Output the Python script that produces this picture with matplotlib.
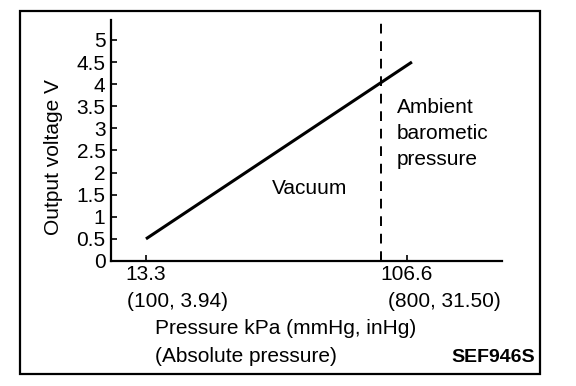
import numpy as np
import matplotlib
matplotlib.use("Agg")
import matplotlib.pyplot as plt
from matplotlib.patches import Rectangle
from matplotlib.transforms import blended_transform_factory, offset_copy

plt.rcParams['font.family'] = ['Liberation Sans', 'DejaVu Sans']

# Sensor characteristic (kPa absolute -> volts)
pressure_kpa = [13.3, 108.4]
output_v = [0.5, 4.5]
ambient_kpa = 97.3

xtick_vals = [13.3, ambient_kpa, 106.6]
xtick_main = ["13.3", "", "106.6"]
xtick_sub = ["(100, 3.94)", "", "(800, 31.50)"]
ytick_vals = np.arange(0, 5.01, 0.5)
ytick_labels = ["0", "0.5", "1", "1.5", "2", "2.5", "3", "3.5", "4", "4.5", "5"]

fs = 15
fig = plt.figure(figsize=(5.76, 3.86), dpi=100)
ax = fig.add_axes([111/576, 1 - 261/386, (502 - 111)/576, (261 - 20)/386])

ax.plot(pressure_kpa, output_v, color='black', lw=2.2, solid_capstyle='butt')
ax.axvline(ambient_kpa, color='black', lw=1.4, dashes=(5, 4))

ax.set_xlim(0.8, 140.6)
ax.set_ylim(0, 5.45)

for s in ['top', 'right']:
    ax.spines[s].set_visible(False)
for s in ['left', 'bottom']:
    ax.spines[s].set_linewidth(1.6)

ax.set_yticks(ytick_vals)
ax.set_yticklabels(ytick_labels, fontsize=fs)
ax.set_xticks(xtick_vals)
ax.set_xticklabels(xtick_main, fontsize=fs)
ax.tick_params(axis='both', direction='in', length=4, width=1.2, pad=3)
ax.tick_params(axis='y', pad=4)

trans = blended_transform_factory(ax.transData, ax.transAxes)
for xv, lab in zip(xtick_vals, xtick_sub):
    if lab:
        ax.text(xv, -0.17, lab, transform=offset_copy(trans, fig=fig, x=-19, y=0, units='dots'),
                ha='left', va='center', fontsize=fs)

ax.set_ylabel("Output voltage V", fontsize=fs, va='center')
ax.yaxis.set_label_coords(-0.146, 0.43)

ax.text(58.3, 1.65, "Vacuum", fontsize=fs, ha='left', va='center')
ax.text(103.0, 3.68, "Ambient\nbarometic\npressure", fontsize=fs, ha='left', va='top',
        linespacing=1.45)

fig.text(155/576, 1 - 328/386, "Pressure kPa (mmHg, inHg)", fontsize=fs, ha='left', va='center')
fig.text(155/576, 1 - 356/386, "(Absolute pressure)", fontsize=fs, ha='left', va='center')
fig.text(535/576, 1 - 358/386, "SEF946S", fontsize=fs - 1, fontweight='bold', ha='right', va='center')

fig.patches.append(Rectangle((20/576, 1 - 374/386), (540 - 20)/576, (374 - 11)/386,
                             transform=fig.transFigure, fill=False, lw=1.6, color='black'))

fig.savefig("out.png", dpi=100)
